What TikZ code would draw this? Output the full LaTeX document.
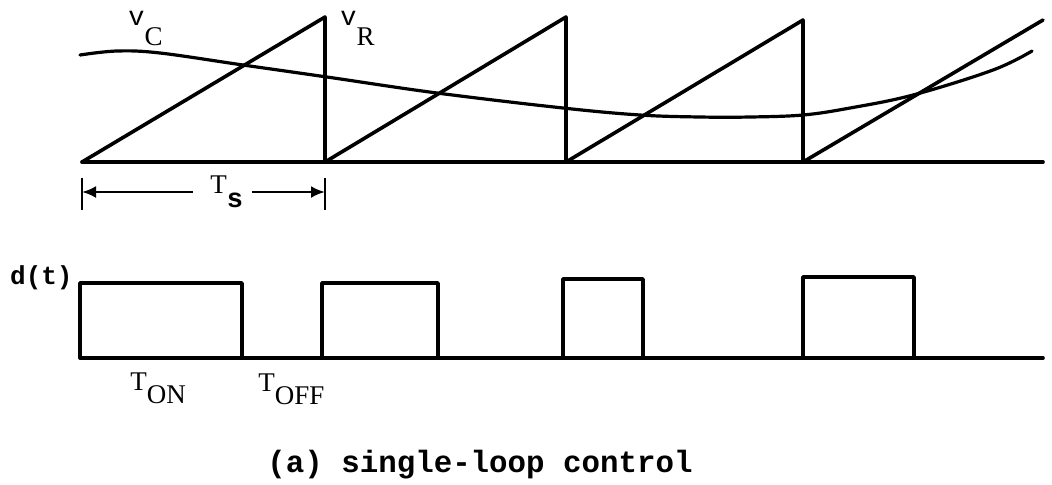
\documentclass[tikz,border=0pt]{standalone}
\usepackage{fontspec}
\setmainfont{Liberation Serif}
\setmonofont{Liberation Mono}
\usetikzlibrary{arrows.meta}
\tikzset{
  % Waveform lines
  wave/.style={line width=1.8pt,line join=round,line cap=round},
  curve/.style={line width=1.6pt,line cap=round},
  % Dimension line for the period
  dimln/.style={line width=1.3pt},
  arr/.style={dimln,-{Latex[length=7pt,width=6pt]}},
  % Label styles
  LB/.style={inner sep=0pt,font=\fontsize{13.5}{15}\selectfont},
  TT/.style={inner sep=0pt,font=\fontsize{13}{15}\selectfont\ttfamily\bfseries}
}
\newcommand{\subsig}[3]{#1\raisebox{-#3}{#2}}

\begin{document}
\begin{tikzpicture}[x=0.5pt,y=-0.5pt]
  \useasboundingbox (0,0) rectangle (1052,484);

  %------ RAMP AND CONTROL VOLTAGE ------
  \draw[wave] (82,162) -- (1043,162);
  \draw[wave] (82,162) -- (325,17) -- (325,162) -- (566,17) -- (566,162)
    -- (803,20) -- (803,162) -- (1043,20);
  \draw[curve] plot[smooth,tension=0.6] coordinates {
    (80,55) (117,51) (160,53) (243,65) (327,77) (437,93) (563,108)
    (640,115) (700,117) (750,117) (803,115) (850,108) (913,95)
    (993,70) (1032,51)};

  \node[LB,anchor=base west] (vc) at (128,25)
    {\subsig{{\ttfamily v}}{C}{10pt}};
  \node[LB,anchor=base west] (vr) at (340,25)
    {\subsig{{\ttfamily v}}{R}{10pt}};

  %------ PERIOD ------
  \coordinate (tsL) at (82,192);
  \coordinate (tsR) at (325,192);
  \draw[dimln] (82,178) -- (82,210);
  \draw[dimln] (325,178) -- (325,210);
  \node[LB,anchor=base west] (ts) at (210,193)
    {\subsig{T}{\ttfamily\bfseries s}{7pt}};
  \draw[arr] ([xshift=-8.5pt]ts.west |- tsL) -- (tsL);
  \draw[arr] ([xshift=4pt]ts.east |- tsR) -- (tsR);

  %------ DUTY PULSES ------
  \draw[wave] (80,358) -- (1043,358);
  \draw[wave] (80,358) rectangle (242,283);
  \draw[wave] (322,358) rectangle (438,283);
  \draw[wave] (563,358) rectangle (643,279);
  \draw[wave] (803,358) rectangle (914,277);

  \node[TT,anchor=base east] (dt) at (73,284) {d(t)};
  \node[LB,anchor=base west] (ton) at (130,390)
    {\subsig{T}{ON}{6.5pt}};
  \node[LB,anchor=base west] (toff) at (258,391)
    {\subsig{T}{OFF}{6.5pt}};

  % Caption
  \node[TT,font=\fontsize{15.4}{17}\selectfont\ttfamily\bfseries,anchor=base]
    (cap) at (480,472) {(a) single-loop control};
\end{tikzpicture}
\end{document}
